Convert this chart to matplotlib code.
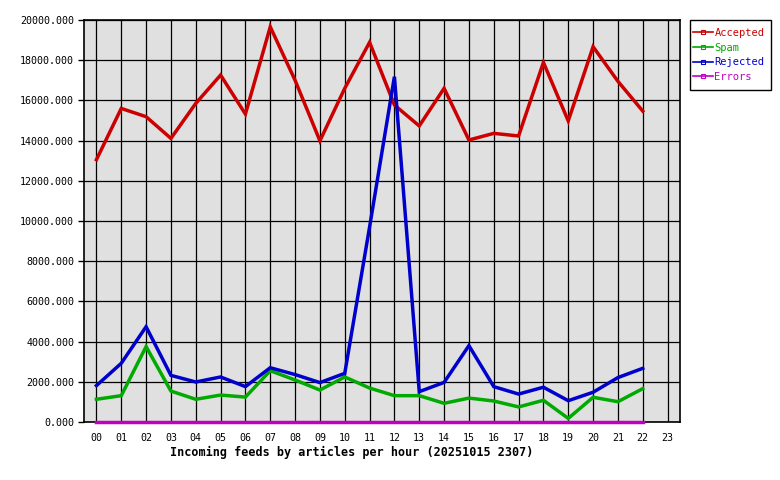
import matplotlib
matplotlib.use("Agg")
import matplotlib.pyplot as plt
from matplotlib.lines import Line2D
from matplotlib.patches import Rectangle

hours = list(range(23))
hour_labels = ["%02d" % h for h in range(24)]
accepted = [13050, 15600, 15190, 14110, 15850, 17260, 15320, 19660, 17000, 13990,
            16600, 18890, 15770, 14730, 16600, 14030, 14360, 14230, 17890, 14980,
            18670, 16950, 15470]
spam = [1130, 1310, 3750, 1540, 1130, 1340, 1240, 2550, 2090, 1590,
        2240, 1690, 1310, 1310, 930, 1190, 1045, 750, 1080, 180,
        1230, 1010, 1660]
rejected = [1810, 2920, 4740, 2320, 1990, 2240, 1760, 2700, 2360, 1960,
            2420, 9700, 17180, 1510, 1970, 3800, 1760, 1390, 1730, 1060,
            1480, 2210, 2670]
errors = [0] * 23

series = [("Accepted", accepted, "#cc0000"),
          ("Spam", spam, "#00aa00"),
          ("Rejected", rejected, "#0000cc"),
          ("Errors", errors, "#c000c0")]

W, H = 780, 480
fig = plt.figure(figsize=(W / 100, H / 100), dpi=100)
ax = fig.add_axes([84 / W, (H - 422) / H, 596 / W, 402 / H])
ax.set_facecolor("#e0e0e0")

for name, vals, col in series:
    ax.plot(hours, vals, color=col, lw=2.5, solid_joinstyle="miter", clip_on=False, zorder=3)

ax.set_xlim(-0.5, 23.5)
ax.set_ylim(0, 20000)
ax.set_xticks(range(24))
ax.set_xticklabels(hour_labels)
yt = list(range(0, 20001, 2000))
ax.set_yticks(yt)
ax.set_yticklabels(["%.3f" % v for v in yt])
ax.grid(True, color="black", lw=0.9)
ax.set_axisbelow(True)
for s in ax.spines.values():
    s.set_linewidth(1.2)
    s.set_color("black")
ax.tick_params(axis="y", direction="out", length=4, width=1, labelsize=7.2, pad=3)
ax.tick_params(axis="x", length=0, labelsize=7.2, pad=8)
for lbl in ax.get_xticklabels() + ax.get_yticklabels():
    lbl.set_family("DejaVu Sans Mono")

fig.text(170 / W, 1 - 452 / H, "Incoming feeds by articles per hour (20251015 2307)",
         family="DejaVu Sans Mono", fontweight="bold", fontsize=8.45,
         ha="left", va="center")

# legend box
fig.patches.append(Rectangle((690 / W, 1 - 90 / H), 81 / W, 70 / H,
                             transform=fig.transFigure, facecolor="white",
                             edgecolor="black", lw=1.0, zorder=1))
handles = [Line2D([0], [0], color=col, lw=1.2, marker="s", markersize=3,
                  markerfacecolor="none", markeredgewidth=0.8) for _, _, col in series]
leg = fig.legend(handles, [n for n, _, _ in series], loc="upper left",
                 bbox_to_anchor=(693 / W, 1 - 28 / H), frameon=False,
                 handlelength=1.9, handletextpad=0.15,
                 borderpad=0, borderaxespad=0, labelspacing=0.45,
                 prop={"family": "DejaVu Sans Mono", "size": 7.5},
                 labelcolor=[c for _, _, c in series])
leg.set_zorder(2)

fig.savefig("out.png", dpi=100)
